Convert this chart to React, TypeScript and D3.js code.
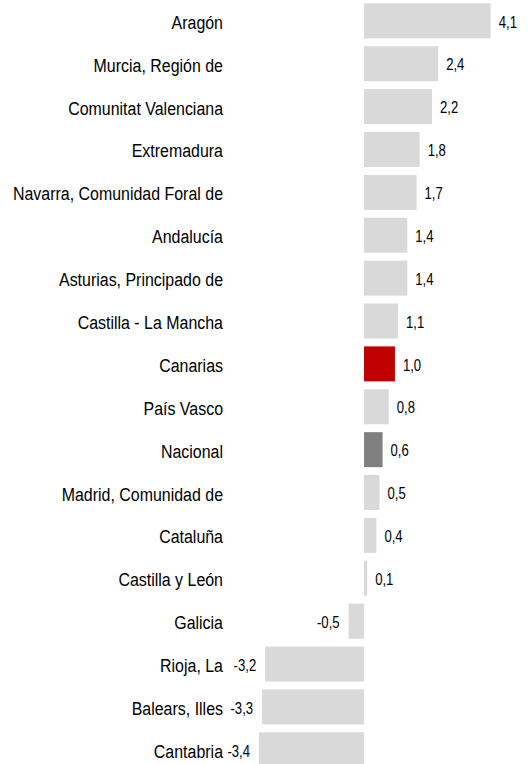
import React from "react";
import * as d3 from "d3";

const categories: string[] = [
  "Aragón",
  "Murcia, Región de",
  "Comunitat Valenciana",
  "Extremadura",
  "Navarra, Comunidad Foral de",
  "Andalucía",
  "Asturias, Principado de",
  "Castilla - La Mancha",
  "Canarias",
  "País Vasco",
  "Nacional",
  "Madrid, Comunidad de",
  "Cataluña",
  "Castilla y León",
  "Galicia",
  "Rioja, La",
  "Balears, Illes",
  "Cantabria",
];

const values: number[] = [4.1, 2.4, 2.2, 1.8, 1.7, 1.4, 1.4, 1.1, 1.0, 0.8, 0.6, 0.5, 0.4, 0.1, -0.5, -3.2, -3.3, -3.4];

const highlightRed = "Canarias";
const highlightDark = "Nacional";

const W = 531;
const H = 764;
const FONT = "'Liberation Sans', Arial, sans-serif";
const SX = 0.84;

export default function App() {
  const x = d3.scaleLinear().domain([-3.4, 4.1]).range([259, 490.7]);
  const y = d3
    .scaleBand<string>()
    .domain(categories)
    .range([-0.6, -0.6 + 18 * 42.88])
    .paddingInner(0.184)
    .paddingOuter(0.092);
  const fmt = (v: number) => d3.format(".1f")(v).replace(".", ",").replace("\u2212", "-");
  const color = (c: string) =>
    c === highlightRed ? "#c00000" : c === highlightDark ? "#808080" : "#d9d9d9";

  return (
    <svg
      width={W}
      height={H}
      style={{ position: "absolute", left: 0, top: 0, background: "#fff" }}
      fontFamily={FONT}
    >
      {categories.map((c, i) => {
        const v = values[i];
        const y0 = y(c)!;
        const bw = y.bandwidth();
        const cy = y0 + bw / 2;
        const x0 = x(Math.min(0, v));
        const x1 = x(Math.max(0, v));
        const lx = v >= 0 ? x1 + 8 : x0 - 9;
        return (
          <g key={c}>
            <rect x={x0} y={y0} width={x1 - x0} height={bw} fill={color(c)} />
            <text
              transform={`translate(223,${cy}) scale(${SX},1)`}
              dy="0.42em"
              textAnchor="end"
              fontSize={19}
              fill="#000"
            >
              {c}
            </text>
            <text
              transform={`translate(${lx},${cy}) scale(0.82,1)`}
              dy="0.42em"
              textAnchor={v >= 0 ? "start" : "end"}
              fontSize={16}
              fill="#000"
            >
              {fmt(v)}
            </text>
          </g>
        );
      })}
    </svg>
  );
}
